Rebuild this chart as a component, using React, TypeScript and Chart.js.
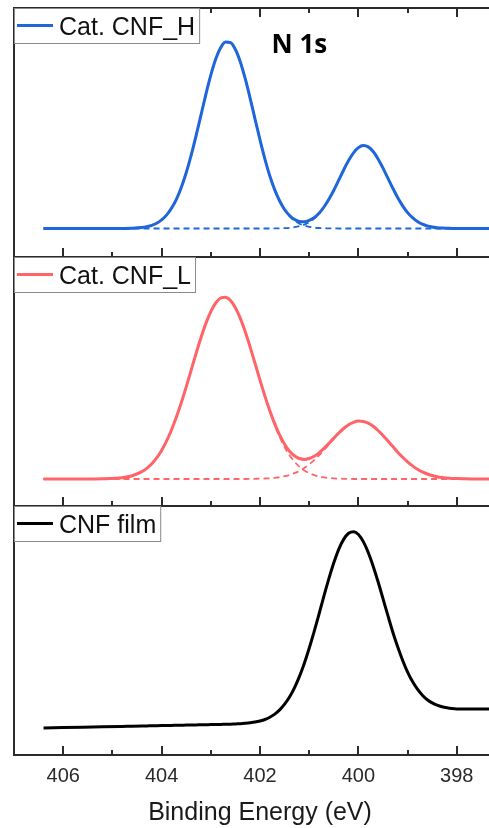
import React, { useEffect, useRef } from "react";
import { Chart, registerables } from "chart.js";

Chart.register(...registerables);

// Binding energy grid (eV)
const energy = [
  406.4, 406.0, 405.6, 405.2, 404.8, 404.6,
  404.4, 404.3, 404.2, 404.1, 404.0, 403.9, 403.8, 403.7, 403.6, 403.5,
  403.4, 403.3, 403.2, 403.1, 403.0, 402.9, 402.8, 402.7, 402.6, 402.5,
  402.4, 402.3, 402.2, 402.1, 402.0, 401.9, 401.8, 401.7, 401.6, 401.5,
  401.4, 401.3, 401.2, 401.1, 401.0, 400.9, 400.8, 400.7, 400.6, 400.5,
  400.4, 400.3, 400.2, 400.1, 400.0, 399.9, 399.8, 399.7, 399.6, 399.5,
  399.4, 399.3, 399.2, 399.1, 399.0, 398.9, 398.8, 398.7, 398.6, 398.5,
  398.4, 398.3, 398.2, 398.1, 398.0, 397.6, 397.3, 397.0,
];

// Cat. CNF_H (a.u.)
const cnfHTotal = [
  2.85, 2.85, 2.85, 2.85, 2.86, 2.88,
  2.95, 3.04, 3.17, 3.38, 3.71, 4.19, 4.87, 5.77, 6.96, 8.42,
  10.16, 12.12, 14.19, 16.27, 18.18, 19.79, 20.93, 21.5, 21.43, 20.75,
  19.51, 17.83, 15.87, 13.77, 11.71, 9.79, 8.1, 6.71, 5.6, 4.75,
  4.15, 3.76, 3.56, 3.53, 3.66, 3.93, 4.38, 5.0, 5.77, 6.68,
  7.68, 8.7, 9.64, 10.42, 10.94, 11.15, 11.01, 10.55, 9.81, 8.89,
  7.88, 6.87, 5.93, 5.12, 4.44, 3.93, 3.55, 3.28, 3.11, 3.0,
  2.93, 2.89, 2.87, 2.86, 2.85, 2.85, 2.85, 2.85,
];
const cnfHPeakA = [
  2.85, 2.85, 2.85, 2.85, 2.86, 2.88,
  2.95, 3.04, 3.17, 3.38, 3.71, 4.19, 4.87, 5.77, 6.96, 8.42,
  10.16, 12.12, 14.19, 16.27, 18.18, 19.79, 20.93, 21.5, 21.43, 20.75,
  19.51, 17.83, 15.87, 13.77, 11.71, 9.79, 8.1, 6.7, 5.58, 4.71,
  4.08, 3.63, 3.33, 3.14, 3.02, 2.94, 2.9, 2.88, 2.86, 2.86,
  2.85, 2.85, 2.85, 2.85, 2.85, 2.85, 2.85, 2.85, 2.85, 2.85,
  2.85, 2.85, 2.85, 2.85, 2.85, 2.85, 2.85, 2.85, 2.85, 2.85,
  2.85, 2.85, 2.85, 2.85, 2.85, 2.85, 2.85, 2.85,
];
const cnfHPeakB = [
  2.85, 2.85, 2.85, 2.85, 2.85, 2.85,
  2.85, 2.85, 2.85, 2.85, 2.85, 2.85, 2.85, 2.85, 2.85, 2.85,
  2.85, 2.85, 2.85, 2.85, 2.85, 2.85, 2.85, 2.85, 2.85, 2.85,
  2.85, 2.85, 2.85, 2.85, 2.85, 2.85, 2.85, 2.86, 2.87, 2.89,
  2.92, 2.98, 3.08, 3.24, 3.49, 3.84, 4.33, 4.97, 5.76, 6.67,
  7.68, 8.7, 9.64, 10.42, 10.94, 11.15, 11.01, 10.55, 9.81, 8.89,
  7.88, 6.87, 5.93, 5.12, 4.44, 3.93, 3.55, 3.28, 3.11, 3.0,
  2.93, 2.89, 2.87, 2.86, 2.85, 2.85, 2.85, 2.85,
];

// Cat. CNF_L (a.u.)
const cnfLTotal = [
  2.7, 2.7, 2.7, 2.72, 2.83, 3.03,
  3.44, 3.77, 4.23, 4.81, 5.56, 6.48, 7.6, 8.89, 10.33, 11.91,
  13.57, 15.24, 16.82, 18.26, 19.44, 20.3, 20.8, 20.88, 20.55, 19.83,
  18.76, 17.42, 15.89, 14.26, 12.59, 10.99, 9.52, 8.21, 7.08, 6.18,
  5.48, 5.02, 4.75, 4.66, 4.75, 4.97, 5.32, 5.76, 6.26, 6.79,
  7.3, 7.75, 8.13, 8.37, 8.49, 8.46, 8.29, 7.98, 7.55, 7.05,
  6.5, 5.94, 5.38, 4.87, 4.41, 4.01, 3.68, 3.41, 3.2, 3.05,
  2.93, 2.85, 2.8, 2.76, 2.74, 2.7, 2.7, 2.7,
];
const cnfLPeakA = [
  2.7, 2.7, 2.7, 2.72, 2.83, 3.03,
  3.44, 3.77, 4.23, 4.81, 5.56, 6.48, 7.6, 8.89, 10.33, 11.91,
  13.57, 15.24, 16.82, 18.26, 19.44, 20.3, 20.8, 20.88, 20.55, 19.83,
  18.76, 17.42, 15.88, 14.24, 12.56, 10.94, 9.45, 8.09, 6.9, 5.9,
  5.08, 4.44, 3.94, 3.56, 3.29, 3.09, 2.95, 2.86, 2.8, 2.76,
  2.74, 2.72, 2.71, 2.7, 2.7, 2.7, 2.7, 2.7, 2.7, 2.7,
  2.7, 2.7, 2.7, 2.7, 2.7, 2.7, 2.7, 2.7, 2.7, 2.7,
  2.7, 2.7, 2.7, 2.7, 2.7, 2.7, 2.7, 2.7,
];
const cnfLPeakB = [
  2.7, 2.7, 2.7, 2.7, 2.7, 2.7,
  2.7, 2.7, 2.7, 2.7, 2.7, 2.7, 2.7, 2.7, 2.7, 2.7,
  2.7, 2.7, 2.7, 2.7, 2.7, 2.7, 2.7, 2.7, 2.7, 2.7,
  2.7, 2.7, 2.71, 2.72, 2.73, 2.75, 2.77, 2.82, 2.88, 2.98,
  3.1, 3.28, 3.51, 3.8, 4.16, 4.58, 5.07, 5.6, 6.16, 6.73,
  7.26, 7.73, 8.12, 8.37, 8.49, 8.46, 8.29, 7.98, 7.55, 7.05,
  6.5, 5.94, 5.38, 4.87, 4.41, 4.01, 3.68, 3.41, 3.2, 3.05,
  2.93, 2.85, 2.8, 2.76, 2.74, 2.7, 2.7, 2.7,
];

// CNF film (a.u.)
const cnfFilm = [
  2.7, 2.74, 2.78, 2.82, 2.86, 2.88,
  2.9, 2.91, 2.92, 2.93, 2.94, 2.95, 2.96, 2.97, 2.98, 2.99,
  3.0, 3.01, 3.02, 3.03, 3.04, 3.05, 3.06, 3.07, 3.08, 3.11,
  3.13, 3.17, 3.22, 3.29, 3.4, 3.55, 3.78, 4.09, 4.51, 5.08,
  5.8, 6.72, 7.84, 9.16, 10.67, 12.33, 14.1, 15.91, 17.64, 19.22,
  20.57, 21.56, 22.17, 22.33, 22.05, 21.34, 20.25, 18.88, 17.32, 15.63,
  13.93, 12.28, 10.79, 9.45, 8.29, 7.34, 6.58, 5.98, 5.53, 5.21,
  4.98, 4.82, 4.72, 4.65, 4.61, 4.59, 4.61, 4.63,
];

const majorTicks = [406, 404, 402, 400, 398];
const minorTicks = [405, 403, 401, 399, 397];
const xRange = [397, 407];
const yRange = [0, 24.9];

const FONT = '"Liberation Sans", Arial, Helvetica, sans-serif';
const BLUE = "#1f66da";
const RED = "#ff6468";
const BLACK = "#000000";
const FRAME = "#2b2b2b";

const pts = (ys: number[]) => energy.map((x, i) => ({ x, y: ys[i] }));

const framePlugin = {
  id: "frame",
  afterDatasetsDraw(chart: any, _args: any, opts: any) {
    const { ctx, chartArea: a, scales } = chart;
    const x = scales.x;
    ctx.save();
    ctx.strokeStyle = FRAME;
    ctx.lineWidth = 2;
    ctx.beginPath();
    ctx.moveTo(a.left, a.top - 1);
    ctx.lineTo(a.left, a.bottom);
    ctx.lineTo(a.right + 20, a.bottom);
    if (opts.top) {
      ctx.moveTo(a.left, a.top);
      ctx.lineTo(a.right + 20, a.top);
    }
    for (const v of majorTicks) {
      const p = Math.round(x.getPixelForValue(v));
      ctx.moveTo(p, a.bottom);
      ctx.lineTo(p, a.bottom - 9);
      if (opts.top) {
        ctx.moveTo(p, a.top);
        ctx.lineTo(p, a.top + 9);
      }
    }
    for (const v of minorTicks) {
      const p = Math.round(x.getPixelForValue(v));
      ctx.moveTo(p, a.bottom);
      ctx.lineTo(p, a.bottom - 5);
      if (opts.top) {
        ctx.moveTo(p, a.top);
        ctx.lineTo(p, a.top + 5);
      }
    }
    ctx.stroke();

    // legend box
    const ds = chart.data.datasets[chart.data.datasets.length - 1];
    const label = ds.label;
    ctx.font = `25px ${FONT}`;
    const tw = ctx.measureText(label).width;
    const bx = a.left + 0.5;
    const by = a.top + 0.5;
    const bw = 45 + tw + 4;
    const bh = 35;
    ctx.fillStyle = "#ffffff";
    ctx.fillRect(bx, by, bw, bh);
    ctx.strokeStyle = "#8a8a8a";
    ctx.lineWidth = 1;
    ctx.strokeRect(bx, by, bw, bh);
    ctx.strokeStyle = ds.borderColor;
    ctx.lineWidth = 3;
    ctx.beginPath();
    ctx.moveTo(a.left + 3, by + 17);
    ctx.lineTo(a.left + 39, by + 17);
    ctx.stroke();
    ctx.fillStyle = "#111111";
    ctx.textBaseline = "alphabetic";
    ctx.textAlign = "left";
    ctx.fillText(label, a.left + 45, by + 26.5);

    if (opts.tag) {
      ctx.font = `bold 26px "Open Sans", ${FONT}`;
      ctx.textAlign = "center";
      ctx.fillStyle = "#000000";
      ctx.fillText(
        opts.tag.text,
        x.getPixelForValue(opts.tag.x),
        scales.y.getPixelForValue(opts.tag.y)
      );
    }
    ctx.restore();
  },
};

type PanelProps = {
  top: number;
  height: number;
  padTop: number;
  padBottom: number;
  datasets: any[];
  showAxis: boolean;
  frame: any;
};

function Panel({ top, height, padTop, padBottom, datasets, showAxis, frame }: PanelProps) {
  const ref = useRef<HTMLCanvasElement | null>(null);
  useEffect(() => {
    if (!ref.current) return;
    const chart = new Chart(ref.current, {
      type: "line",
      data: { datasets },
      options: {
        responsive: false,
        animation: false,
        devicePixelRatio: 1,
        events: [],
        layout: { padding: { left: 14, right: 6, top: padTop, bottom: padBottom } },
        elements: { point: { radius: 0 } },
        plugins: {
          legend: { display: false },
          tooltip: { enabled: false },
          frame,
        } as any,
        scales: {
          x: {
            type: "linear",
            min: xRange[0],
            max: xRange[1],
            reverse: true,
            display: showAxis,
            afterBuildTicks: (s: any) => {
              s.ticks = majorTicks.map((v) => ({ value: v }));
            },
            grid: { display: false, drawTicks: false },
            border: { display: false },
            ticks: {
              font: { size: 20, family: FONT },
              color: "#2a2a2a",
              padding: 9,
              maxRotation: 0,
              autoSkip: false,
            },
            title: {
              display: showAxis,
              text: "Binding Energy (eV)",
              font: { size: 25, family: FONT },
              color: "#1a1a1a",
              padding: { top: 1, bottom: 0 },
            },
          },
          y: { display: false, min: yRange[0], max: yRange[1] },
        },
      },
      plugins: [framePlugin],
    });
    return () => chart.destroy();
  }, []);
  return (
    <canvas
      ref={ref}
      width={512}
      height={height}
      style={{ position: "absolute", left: 0, top, display: "block" }}
    />
  );
}

const comp = (label: string, ys: number[], color: string) => ({
  label,
  data: pts(ys),
  borderColor: color,
  borderWidth: 1.8,
  borderDash: [6, 4],
  cubicInterpolationMode: "monotone",
  fill: false,
});
const main = (label: string, ys: number[], color: string) => ({
  label,
  data: pts(ys),
  borderColor: color,
  borderWidth: 3,
  cubicInterpolationMode: "monotone",
  fill: false,
});

export default function App() {
  return (
    <div
      style={{
        position: "absolute",
        left: 0,
        top: 0,
        width: 489,
        height: 828,
        overflow: "hidden",
        background: "#ffffff",
      }}
    >
      <Panel
        top={0}
        height={262}
        padTop={8}
        padBottom={5}
        showAxis={false}
        frame={{ top: true, tag: { text: "N 1s", x: 401.2, y: 20.4 } }}
        datasets={[
          comp("peak A", cnfHPeakA, BLUE),
          comp("peak B", cnfHPeakB, BLUE),
          main("Cat. CNF_H", cnfHTotal, BLUE),
        ]}
      />
      <Panel
        top={252}
        height={259}
        padTop={5}
        padBottom={5}
        showAxis={false}
        frame={{ top: false }}
        datasets={[
          comp("peak A", cnfLPeakA, RED),
          comp("peak B", cnfLPeakB, RED),
          main("Cat. CNF_L", cnfLTotal, RED),
        ]}
      />
      <Panel
        top={501}
        height={327}
        padTop={5}
        padBottom={0}
        showAxis={true}
        frame={{ top: false }}
        datasets={[main("CNF film", cnfFilm, BLACK)]}
      />
    </div>
  );
}
